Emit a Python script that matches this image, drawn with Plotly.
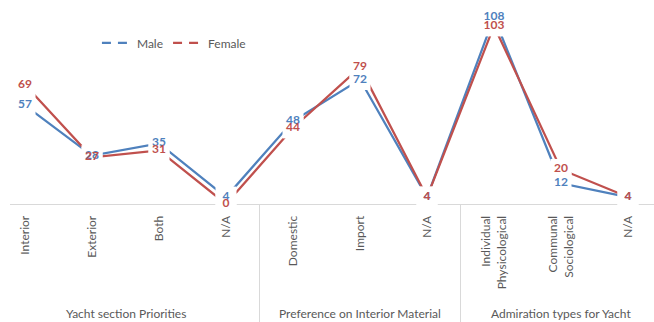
import plotly.graph_objects as go

# Survey categories (three question groups along one axis)
categories = ["Interior", "Exterior", "Both", "N/A",
              "Domestic", "Import", "N/A",
              "Individual<br>Physicological", "Communal<br>Sociological", "N/A"]
groups = ["Yacht section Priorities", "Preference on Interior Material", "Admiration types for Yacht"]
group_sizes = [4, 3, 3]

male = [57, 28, 35, 4, 48, 72, 4, 108, 12, 4]
female = [69, 27, 31, 0, 44, 79, 4, 103, 20, 4]

BLUE = "#4F81BD"
RED = "#C0504D"
GRAY = "#595959"
FONT = "Lato"

x = list(range(len(categories)))
series = [("Male", male, BLUE), ("Female", female, RED)]

fig = go.Figure()
# connecting lines
for name, vals, color in series:
    fig.add_trace(go.Scatter(x=x, y=vals, mode="lines", line=dict(color=color, width=2.25),
                             showlegend=False, hoverinfo="skip"))
# white knock-out behind each value label
for name, vals, color in series:
    fig.add_trace(go.Scatter(x=x, y=vals, mode="markers", showlegend=False, hoverinfo="skip",
                             cliponaxis=False,
                             marker=dict(symbol="square", size=21, color="white",
                                         line=dict(width=0))))
# centred value labels
for name, vals, color in series:
    fig.add_trace(go.Scatter(x=x, y=vals, mode="text", text=[f"<b>{v}</b>" for v in vals],
                             textposition="middle center", cliponaxis=False,
                             textfont=dict(family=FONT, size=12, color=color),
                             showlegend=False, hoverinfo="skip"))
# legend entries
for name, vals, color in series:
    fig.add_trace(go.Scatter(x=[None], y=[None], mode="lines", name=name,
                             line=dict(color=color, width=2.25, dash="9px,7px")))

annotations = []
shapes = []
start = 0
for i, (g, n) in enumerate(zip(groups, group_sizes)):
    center = start + (n - 1) / 2
    annotations.append(dict(
        x=center, y=-0.535, xref="x", yref="paper", text=g, showarrow=False,
        font=dict(family=FONT, size=12, color=GRAY), xanchor="center", yanchor="middle"))
    if i > 0:
        shapes.append(dict(type="line", xref="x", yref="paper", layer="below",
                           x0=start - 0.5, x1=start - 0.5, y0=0, y1=-0.6,
                           line=dict(color="#D9D9D9", width=1)))
    start += n

fig.update_layout(
    width=654, height=322,
    margin=dict(l=10, r=0, t=0, b=118),
    paper_bgcolor="white", plot_bgcolor="white",
    annotations=annotations, shapes=shapes,
    legend=dict(orientation="h", x=0.135, y=0.79, xanchor="left", yanchor="middle",
                font=dict(family=FONT, size=12, color=GRAY), itemwidth=30,
                bgcolor="rgba(0,0,0,0)"),
    xaxis=dict(range=[-0.224, 9.388], tickvals=x, ticktext=categories, tickangle=-90,
               showgrid=False, zeroline=False, showline=True, linecolor="#D9D9D9",
               linewidth=1, ticks="", ticklabelstandoff=6, layer="below traces",
               tickfont=dict(family=FONT, size=12, color=GRAY)),
    yaxis=dict(range=[0, 118], visible=False, showgrid=False, zeroline=False),
)

fig.write_html("out.html")
